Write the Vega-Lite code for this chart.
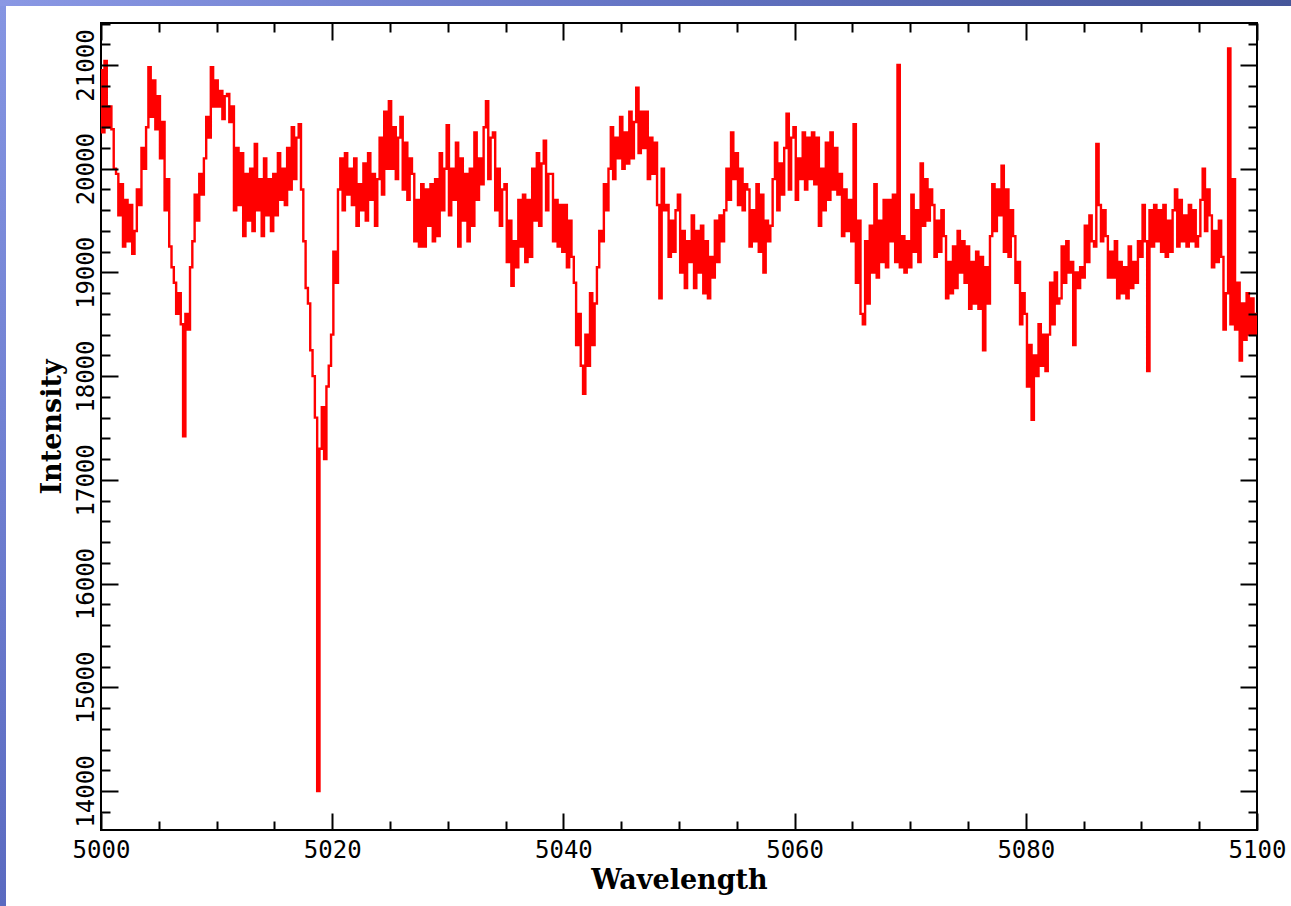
{
"$schema": "https://vega.github.io/schema/vega-lite/v6.json",
"padding": 0,
"background": "white",
"spacing": 0,
"config": {"view": {"stroke": "black", "strokeWidth": 2}},
"vconcat": [
{
"width": 1291, "height": 6,
"data": {"values": [{}]},
"mark": {"type": "rect", "color": {"gradient": "linear", "x1": 0, "y1": 0, "x2": 1, "y2": 0, "stops": [{"offset": 0, "color": "#8a98e4"}, {"offset": 0.5, "color": "#6474c4"}, {"offset": 1, "color": "#46569a"}]}},
"encoding": {},
"view": {"stroke": null}
},
{
"spacing": 0,
"hconcat": [
{
"width": 6, "height": 900,
"data": {"values": [{}]},
"mark": {"type": "rect", "color": {"gradient": "linear", "x1": 0, "y1": 0, "x2": 0, "y2": 1, "stops": [{"offset": 0, "color": "#8595e2"}, {"offset": 1, "color": "#5a6ac0"}]}},
"encoding": {},
"view": {"stroke": null}
},
{
"spacing": 0,
"vconcat": [
{
"width": 1, "height": 1,
"data": {"values": [{}]},
"mark": {"type": "rect", "opacity": 0},
"encoding": {},
"view": {"stroke": null}
},
{
"width": 1156,
"height": 807,
"data": {"values": [
{"w":5000.0,"i":20950},{"w":5000.2,"i":20350},{"w":5000.4,"i":21040},{"w":5000.6,"i":20400},{"w":5000.8,"i":20600},
{"w":5001.0,"i":20380},{"w":5001.2,"i":20000},{"w":5001.4,"i":19950},{"w":5001.6,"i":19550},{"w":5001.8,"i":19850},
{"w":5002.0,"i":19250},{"w":5002.2,"i":19700},{"w":5002.4,"i":19300},{"w":5002.6,"i":19650},{"w":5002.8,"i":19180},
{"w":5003.0,"i":19400},{"w":5003.2,"i":19800},{"w":5003.4,"i":19650},{"w":5003.6,"i":20200},{"w":5003.8,"i":20000},
{"w":5004.0,"i":20400},{"w":5004.2,"i":20980},{"w":5004.4,"i":20500},{"w":5004.6,"i":20850},{"w":5004.8,"i":20380},
{"w":5005.0,"i":20700},{"w":5005.2,"i":20100},{"w":5005.4,"i":20450},{"w":5005.6,"i":19600},{"w":5005.8,"i":19900},
{"w":5006.0,"i":19250},{"w":5006.2,"i":19050},{"w":5006.4,"i":18900},{"w":5006.6,"i":18600},{"w":5006.8,"i":18800},
{"w":5007.0,"i":18500},{"w":5007.2,"i":17420},{"w":5007.4,"i":18600},{"w":5007.6,"i":18450},{"w":5007.8,"i":19050},
{"w":5008.0,"i":19300},{"w":5008.2,"i":19750},{"w":5008.4,"i":19500},{"w":5008.6,"i":19950},{"w":5008.8,"i":19750},
{"w":5009.0,"i":20100},{"w":5009.2,"i":20500},{"w":5009.4,"i":20300},{"w":5009.6,"i":20980},{"w":5009.8,"i":20600},
{"w":5010.0,"i":20850},{"w":5010.2,"i":20600},{"w":5010.4,"i":20750},{"w":5010.6,"i":20480},{"w":5010.8,"i":20700},
{"w":5011.0,"i":20720},{"w":5011.2,"i":20450},{"w":5011.4,"i":20600},{"w":5011.6,"i":19600},{"w":5011.8,"i":20200},
{"w":5012.0,"i":19650},{"w":5012.2,"i":20150},{"w":5012.4,"i":19350},{"w":5012.6,"i":19950},{"w":5012.8,"i":19500},
{"w":5013.0,"i":20000},{"w":5013.2,"i":19400},{"w":5013.4,"i":20240},{"w":5013.6,"i":19600},{"w":5013.8,"i":19900},
{"w":5014.0,"i":19350},{"w":5014.2,"i":20100},{"w":5014.4,"i":19550},{"w":5014.6,"i":19900},{"w":5014.8,"i":19400},
{"w":5015.0,"i":19950},{"w":5015.2,"i":19550},{"w":5015.4,"i":20150},{"w":5015.6,"i":19700},{"w":5015.8,"i":20000},
{"w":5016.0,"i":19650},{"w":5016.2,"i":20200},{"w":5016.4,"i":19800},{"w":5016.6,"i":20400},{"w":5016.8,"i":19900},
{"w":5017.0,"i":20300},{"w":5017.2,"i":20430},{"w":5017.4,"i":19800},{"w":5017.6,"i":19300},{"w":5017.8,"i":18850},
{"w":5018.0,"i":18700},{"w":5018.2,"i":18250},{"w":5018.4,"i":18000},{"w":5018.6,"i":17600},{"w":5018.8,"i":14000},
{"w":5019.0,"i":17300},{"w":5019.2,"i":17700},{"w":5019.4,"i":17200},{"w":5019.6,"i":17900},{"w":5019.8,"i":18100},
{"w":5020.0,"i":18400},{"w":5020.2,"i":19200},{"w":5020.4,"i":18900},{"w":5020.6,"i":19800},{"w":5020.8,"i":20100},
{"w":5021.0,"i":19600},{"w":5021.2,"i":20150},{"w":5021.4,"i":19750},{"w":5021.6,"i":20000},{"w":5021.8,"i":19650},
{"w":5022.0,"i":20100},{"w":5022.2,"i":19450},{"w":5022.4,"i":19850},{"w":5022.6,"i":19600},{"w":5022.8,"i":20050},
{"w":5023.0,"i":19500},{"w":5023.2,"i":20150},{"w":5023.4,"i":19700},{"w":5023.6,"i":19950},{"w":5023.8,"i":19450},
{"w":5024.0,"i":19900},{"w":5024.2,"i":20300},{"w":5024.4,"i":19750},{"w":5024.6,"i":20550},{"w":5024.8,"i":20000},
{"w":5025.0,"i":20650},{"w":5025.2,"i":20000},{"w":5025.4,"i":20400},{"w":5025.6,"i":19900},{"w":5025.8,"i":20300},
{"w":5026.0,"i":20500},{"w":5026.2,"i":19800},{"w":5026.4,"i":20250},{"w":5026.6,"i":19700},{"w":5026.8,"i":20100},
{"w":5027.0,"i":19950},{"w":5027.2,"i":19300},{"w":5027.4,"i":19700},{"w":5027.6,"i":19250},{"w":5027.8,"i":19850},
{"w":5028.0,"i":19250},{"w":5028.2,"i":19800},{"w":5028.4,"i":19450},{"w":5028.6,"i":19850},{"w":5028.8,"i":19300},
{"w":5029.0,"i":19900},{"w":5029.2,"i":19350},{"w":5029.4,"i":20150},{"w":5029.6,"i":19600},{"w":5029.8,"i":20000},
{"w":5030.0,"i":20420},{"w":5030.2,"i":19550},{"w":5030.4,"i":20000},{"w":5030.6,"i":19700},{"w":5030.8,"i":20250},
{"w":5031.0,"i":19250},{"w":5031.2,"i":20100},{"w":5031.4,"i":19500},{"w":5031.6,"i":19950},{"w":5031.8,"i":19300},
{"w":5032.0,"i":20000},{"w":5032.2,"i":19450},{"w":5032.4,"i":20350},{"w":5032.6,"i":19700},{"w":5032.8,"i":20100},
{"w":5033.0,"i":19850},{"w":5033.2,"i":20400},{"w":5033.4,"i":20650},{"w":5033.6,"i":19900},{"w":5033.8,"i":20300},
{"w":5034.0,"i":20350},{"w":5034.2,"i":19600},{"w":5034.4,"i":20000},{"w":5034.6,"i":19450},{"w":5034.8,"i":19800},
{"w":5035.0,"i":19850},{"w":5035.2,"i":19100},{"w":5035.4,"i":19500},{"w":5035.6,"i":18870},{"w":5035.8,"i":19300},
{"w":5036.0,"i":19050},{"w":5036.2,"i":19700},{"w":5036.4,"i":19250},{"w":5036.6,"i":19750},{"w":5036.8,"i":19100},
{"w":5037.0,"i":19700},{"w":5037.2,"i":19150},{"w":5037.4,"i":20000},{"w":5037.6,"i":19500},{"w":5037.8,"i":20150},
{"w":5038.0,"i":19450},{"w":5038.2,"i":20050},{"w":5038.4,"i":20270},{"w":5038.6,"i":19600},{"w":5038.8,"i":19950},
{"w":5039.0,"i":19950},{"w":5039.2,"i":19300},{"w":5039.4,"i":19700},{"w":5039.6,"i":19250},{"w":5039.8,"i":19650},
{"w":5040.0,"i":19200},{"w":5040.2,"i":19650},{"w":5040.4,"i":19050},{"w":5040.6,"i":19500},{"w":5040.8,"i":19150},
{"w":5041.0,"i":18900},{"w":5041.2,"i":18300},{"w":5041.4,"i":18600},{"w":5041.6,"i":18100},{"w":5041.8,"i":17830},
{"w":5042.0,"i":18400},{"w":5042.2,"i":18100},{"w":5042.4,"i":18800},{"w":5042.6,"i":18300},{"w":5042.8,"i":18700},
{"w":5043.0,"i":19050},{"w":5043.2,"i":19400},{"w":5043.4,"i":19300},{"w":5043.6,"i":19850},{"w":5043.8,"i":19600},
{"w":5044.0,"i":20000},{"w":5044.2,"i":20400},{"w":5044.4,"i":19900},{"w":5044.6,"i":20300},{"w":5044.8,"i":20100},
{"w":5045.0,"i":20500},{"w":5045.2,"i":20000},{"w":5045.4,"i":20350},{"w":5045.6,"i":20050},{"w":5045.8,"i":20550},
{"w":5046.0,"i":20100},{"w":5046.2,"i":20450},{"w":5046.4,"i":20780},{"w":5046.6,"i":20150},{"w":5046.8,"i":20550},
{"w":5047.0,"i":20200},{"w":5047.2,"i":20550},{"w":5047.4,"i":19900},{"w":5047.6,"i":20300},{"w":5047.8,"i":19950},
{"w":5048.0,"i":20250},{"w":5048.2,"i":19650},{"w":5048.4,"i":18750},{"w":5048.6,"i":20000},{"w":5048.8,"i":19600},
{"w":5049.0,"i":19650},{"w":5049.2,"i":19150},{"w":5049.4,"i":19500},{"w":5049.6,"i":19200},{"w":5049.8,"i":19600},
{"w":5050.0,"i":19750},{"w":5050.2,"i":19000},{"w":5050.4,"i":19400},{"w":5050.6,"i":18850},{"w":5050.8,"i":19300},
{"w":5051.0,"i":19100},{"w":5051.2,"i":19550},{"w":5051.4,"i":18850},{"w":5051.6,"i":19400},{"w":5051.8,"i":19000},
{"w":5052.0,"i":19450},{"w":5052.2,"i":18800},{"w":5052.4,"i":19300},{"w":5052.6,"i":18750},{"w":5052.8,"i":19150},
{"w":5053.0,"i":18950},{"w":5053.2,"i":19500},{"w":5053.4,"i":19100},{"w":5053.6,"i":19550},{"w":5053.8,"i":19300},
{"w":5054.0,"i":19600},{"w":5054.2,"i":20000},{"w":5054.4,"i":19700},{"w":5054.6,"i":20350},{"w":5054.8,"i":19900},
{"w":5055.0,"i":20150},{"w":5055.2,"i":19650},{"w":5055.4,"i":20000},{"w":5055.6,"i":19600},{"w":5055.8,"i":19850},
{"w":5056.0,"i":19800},{"w":5056.2,"i":19250},{"w":5056.4,"i":19600},{"w":5056.6,"i":19300},{"w":5056.8,"i":19850},
{"w":5057.0,"i":19200},{"w":5057.2,"i":19750},{"w":5057.4,"i":19000},{"w":5057.6,"i":19500},{"w":5057.8,"i":19300},
{"w":5058.0,"i":19450},{"w":5058.2,"i":19900},{"w":5058.4,"i":20250},{"w":5058.6,"i":19600},{"w":5058.8,"i":20050},
{"w":5059.0,"i":19750},{"w":5059.2,"i":20200},{"w":5059.4,"i":20530},{"w":5059.6,"i":19800},{"w":5059.8,"i":20300},
{"w":5060.0,"i":20400},{"w":5060.2,"i":19700},{"w":5060.4,"i":20100},{"w":5060.6,"i":19900},{"w":5060.8,"i":20350},
{"w":5061.0,"i":19800},{"w":5061.2,"i":20300},{"w":5061.4,"i":19900},{"w":5061.6,"i":20350},{"w":5061.8,"i":19850},
{"w":5062.0,"i":20300},{"w":5062.2,"i":19450},{"w":5062.4,"i":20000},{"w":5062.6,"i":19600},{"w":5062.8,"i":20250},
{"w":5063.0,"i":19700},{"w":5063.2,"i":20350},{"w":5063.4,"i":19800},{"w":5063.6,"i":20200},{"w":5063.8,"i":19750},
{"w":5064.0,"i":19950},{"w":5064.2,"i":19350},{"w":5064.4,"i":19800},{"w":5064.6,"i":19400},{"w":5064.8,"i":19700},
{"w":5065.0,"i":19300},{"w":5065.2,"i":20430},{"w":5065.4,"i":18900},{"w":5065.6,"i":19500},{"w":5065.8,"i":18600},
{"w":5066.0,"i":18500},{"w":5066.2,"i":19300},{"w":5066.4,"i":18700},{"w":5066.6,"i":19450},{"w":5066.8,"i":19000},
{"w":5067.0,"i":19850},{"w":5067.2,"i":18950},{"w":5067.4,"i":19500},{"w":5067.6,"i":19100},{"w":5067.8,"i":19700},
{"w":5068.0,"i":19050},{"w":5068.2,"i":19700},{"w":5068.4,"i":19300},{"w":5068.6,"i":19750},{"w":5068.8,"i":19100},
{"w":5069.0,"i":21000},{"w":5069.2,"i":19050},{"w":5069.4,"i":19350},{"w":5069.6,"i":19000},{"w":5069.8,"i":19300},
{"w":5070.0,"i":19050},{"w":5070.2,"i":19750},{"w":5070.4,"i":19200},{"w":5070.6,"i":19600},{"w":5070.8,"i":19100},
{"w":5071.0,"i":20050},{"w":5071.2,"i":19450},{"w":5071.4,"i":19900},{"w":5071.6,"i":19500},{"w":5071.8,"i":19800},
{"w":5072.0,"i":19650},{"w":5072.2,"i":19150},{"w":5072.4,"i":19500},{"w":5072.6,"i":19200},{"w":5072.8,"i":19600},
{"w":5073.0,"i":19350},{"w":5073.2,"i":18750},{"w":5073.4,"i":19100},{"w":5073.6,"i":18800},{"w":5073.8,"i":19250},
{"w":5074.0,"i":18850},{"w":5074.2,"i":19400},{"w":5074.4,"i":19000},{"w":5074.6,"i":19300},{"w":5074.8,"i":18900},
{"w":5075.0,"i":19250},{"w":5075.2,"i":18650},{"w":5075.4,"i":19100},{"w":5075.6,"i":18700},{"w":5075.8,"i":19200},
{"w":5076.0,"i":18650},{"w":5076.2,"i":19150},{"w":5076.4,"i":18250},{"w":5076.6,"i":19050},{"w":5076.8,"i":18700},
{"w":5077.0,"i":19350},{"w":5077.2,"i":19850},{"w":5077.4,"i":19400},{"w":5077.6,"i":19800},{"w":5077.8,"i":19550},
{"w":5078.0,"i":20030},{"w":5078.2,"i":19200},{"w":5078.4,"i":19800},{"w":5078.6,"i":19150},{"w":5078.8,"i":19600},
{"w":5079.0,"i":19350},{"w":5079.2,"i":18900},{"w":5079.4,"i":19100},{"w":5079.6,"i":18500},{"w":5079.8,"i":18800},
{"w":5080.0,"i":18600},{"w":5080.2,"i":17900},{"w":5080.4,"i":18300},{"w":5080.6,"i":17580},{"w":5080.8,"i":18200},
{"w":5081.0,"i":18000},{"w":5081.2,"i":18500},{"w":5081.4,"i":18100},{"w":5081.6,"i":18400},{"w":5081.8,"i":18050},
{"w":5082.0,"i":18400},{"w":5082.2,"i":18900},{"w":5082.4,"i":18500},{"w":5082.6,"i":19000},{"w":5082.8,"i":18700},
{"w":5083.0,"i":18750},{"w":5083.2,"i":19250},{"w":5083.4,"i":18900},{"w":5083.6,"i":19300},{"w":5083.8,"i":19000},
{"w":5084.0,"i":19100},{"w":5084.2,"i":18300},{"w":5084.4,"i":19000},{"w":5084.6,"i":18850},{"w":5084.8,"i":19050},
{"w":5085.0,"i":18950},{"w":5085.2,"i":19450},{"w":5085.4,"i":19100},{"w":5085.6,"i":19550},{"w":5085.8,"i":19300},
{"w":5086.0,"i":19250},{"w":5086.2,"i":20240},{"w":5086.4,"i":19650},{"w":5086.6,"i":19300},{"w":5086.8,"i":19600},
{"w":5087.0,"i":19350},{"w":5087.2,"i":18950},{"w":5087.4,"i":19200},{"w":5087.6,"i":18950},{"w":5087.8,"i":19300},
{"w":5088.0,"i":18750},{"w":5088.2,"i":19100},{"w":5088.4,"i":18800},{"w":5088.6,"i":19050},{"w":5088.8,"i":18750},
{"w":5089.0,"i":19250},{"w":5089.2,"i":18850},{"w":5089.4,"i":19100},{"w":5089.6,"i":18900},{"w":5089.8,"i":19300},
{"w":5090.0,"i":19150},{"w":5090.2,"i":19650},{"w":5090.4,"i":19300},{"w":5090.6,"i":18050},{"w":5090.8,"i":19600},
{"w":5091.0,"i":19250},{"w":5091.2,"i":19650},{"w":5091.4,"i":19300},{"w":5091.6,"i":19600},{"w":5091.8,"i":19200},
{"w":5092.0,"i":19650},{"w":5092.2,"i":19150},{"w":5092.4,"i":19500},{"w":5092.6,"i":19200},{"w":5092.8,"i":19600},
{"w":5093.0,"i":19800},{"w":5093.2,"i":19250},{"w":5093.4,"i":19700},{"w":5093.6,"i":19300},{"w":5093.8,"i":19550},
{"w":5094.0,"i":19250},{"w":5094.2,"i":19650},{"w":5094.4,"i":19300},{"w":5094.6,"i":19600},{"w":5094.8,"i":19250},
{"w":5095.0,"i":19350},{"w":5095.2,"i":19700},{"w":5095.4,"i":20000},{"w":5095.6,"i":19400},{"w":5095.8,"i":19800},
{"w":5096.0,"i":19550},{"w":5096.2,"i":19050},{"w":5096.4,"i":19400},{"w":5096.6,"i":19100},{"w":5096.8,"i":19500},
{"w":5097.0,"i":19150},{"w":5097.2,"i":18450},{"w":5097.4,"i":18800},{"w":5097.6,"i":21160},{"w":5097.8,"i":18500},
{"w":5098.0,"i":19900},{"w":5098.2,"i":18450},{"w":5098.4,"i":18900},{"w":5098.6,"i":18150},{"w":5098.8,"i":18700},
{"w":5099.0,"i":18350},{"w":5099.2,"i":18800},{"w":5099.4,"i":18400},{"w":5099.6,"i":18750},{"w":5099.8,"i":18400},
{"w":5100.0,"i":18600}
]},
"layer": [
{
"mark": {"type": "line", "interpolate": "step", "color": "#ff0000", "strokeWidth": 2.4},
"encoding": {
"x": {"field": "w", "type": "quantitative", "scale": {"domain": [5000, 5100], "nice": false, "zero": false},
"axis": {"orient": "bottom", "values": [5000, 5020, 5040, 5060, 5080, 5100], "format": "d", "grid": false, "domain": false,
"tickSize": -17, "tickWidth": 2, "tickColor": "black", "zindex": 1,
"labelFont": "DejaVu Sans Mono", "labelFontSize": 24, "labelColor": "black", "labelPadding": 25, "labelFlush": false, "labelOverlap": false, "labelBaseline": "top",
"title": "Wavelength", "titleFont": "DejaVu Serif", "titleFontSize": 27, "titleFontWeight": "bold", "titleColor": "black", "titlePadding": 5}},
"y": {"field": "i", "type": "quantitative", "scale": {"domain": [13624, 21405], "nice": false, "zero": false},
"axis": {"orient": "left", "values": [14000, 15000, 16000, 17000, 18000, 19000, 20000, 21000], "format": "d", "grid": false, "domain": false,
"tickSize": -17, "tickWidth": 2, "tickColor": "black", "zindex": 1,
"labelFont": "DejaVu Sans Mono", "labelFontSize": 24, "labelColor": "black", "labelPadding": 25, "labelAngle": -90, "labelAlign": "center", "labelBaseline": "alphabetic", "labelFlush": false, "labelOverlap": false,
"title": "Intensity", "titleFont": "DejaVu Serif", "titleFontSize": 27, "titleFontWeight": "bold", "titleColor": "black", "titlePadding": 8}}
}
},
{
"mark": {"type": "line", "opacity": 0},
"encoding": {
"x": {"field": "w", "type": "quantitative", "scale": {"domain": [5000, 5100], "nice": false, "zero": false},
"axis": {"orient": "bottom", "values": [5005, 5010, 5015, 5025, 5030, 5035, 5045, 5050, 5055, 5065, 5070, 5075, 5085, 5090, 5095], "grid": false, "domain": false, "labels": false, "title": null,
"tickSize": -9, "tickWidth": 2, "tickColor": "black", "zindex": 1}},
"y": {"field": "i", "type": "quantitative", "scale": {"domain": [13624, 21405], "nice": false, "zero": false},
"axis": {"orient": "left", "values": [13800, 14200, 14400, 14600, 14800, 15200, 15400, 15600, 15800, 16200, 16400, 16600, 16800, 17200, 17400, 17600, 17800, 18200, 18400, 18600, 18800, 19200, 19400, 19600, 19800, 20200, 20400, 20600, 20800, 21200, 21400], "grid": false, "domain": false, "labels": false, "title": null,
"tickSize": -9, "tickWidth": 2, "tickColor": "black", "zindex": 1, "minExtent": 94, "maxExtent": 94}}
}
},
{
"mark": {"type": "line", "opacity": 0},
"encoding": {
"x": {"field": "w", "type": "quantitative", "scale": {"domain": [5000, 5100], "nice": false, "zero": false},
"axis": {"orient": "top", "values": [5000, 5020, 5040, 5060, 5080, 5100], "grid": false, "domain": false, "labels": false, "title": null,
"tickSize": -17, "tickWidth": 2, "tickColor": "black", "zindex": 1, "minExtent": 15, "maxExtent": 15}},
"y": {"field": "i", "type": "quantitative", "scale": {"domain": [13624, 21405], "nice": false, "zero": false},
"axis": {"orient": "right", "values": [14000, 15000, 16000, 17000, 18000, 19000, 20000, 21000], "grid": false, "domain": false, "labels": false, "title": null,
"tickSize": -17, "tickWidth": 2, "tickColor": "black", "zindex": 1}}
}
},
{
"mark": {"type": "line", "opacity": 0},
"encoding": {
"x": {"field": "w", "type": "quantitative", "scale": {"domain": [5000, 5100], "nice": false, "zero": false},
"axis": {"orient": "top", "values": [5005, 5010, 5015, 5025, 5030, 5035, 5045, 5050, 5055, 5065, 5070, 5075, 5085, 5090, 5095], "grid": false, "domain": false, "labels": false, "title": null,
"tickSize": -9, "tickWidth": 2, "tickColor": "black", "zindex": 1}},
"y": {"field": "i", "type": "quantitative", "scale": {"domain": [13624, 21405], "nice": false, "zero": false},
"axis": {"orient": "right", "values": [13800, 14200, 14400, 14600, 14800, 15200, 15400, 15600, 15800, 16200, 16400, 16600, 16800, 17200, 17400, 17600, 17800, 18200, 18400, 18600, 18800, 19200, 19400, 19600, 19800, 20200, 20400, 20600, 20800, 21200, 21400], "grid": false, "domain": false, "labels": false, "title": null,
"tickSize": -9, "tickWidth": 2, "tickColor": "black", "zindex": 1}}
}
}
],
"resolve": {"axis": {"x": "independent", "y": "independent"}}
}
]
}
]
}
]
}
